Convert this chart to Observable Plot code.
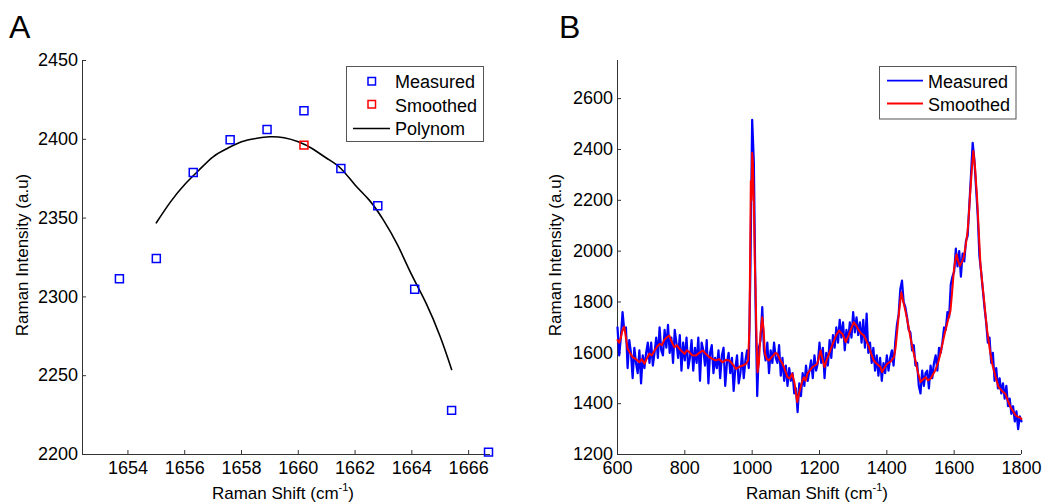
<!DOCTYPE html>
<html><head><meta charset="utf-8">
<script src="https://cdn.jsdelivr.net/npm/d3@7"></script>
<script src="https://cdn.jsdelivr.net/npm/@observablehq/plot@0.6"></script>
<style>
body{margin:0;background:#fff;}
#fig{position:relative;width:1043px;height:504px;overflow:hidden;font-family:"Liberation Sans",Arial,sans-serif;}
#fig svg{position:absolute;top:0;}
</style></head><body><div id="fig"></div>
<script>
// ---------- Panel A data ----------
const aMeasX = [1653.7,1655.0,1656.3,1657.6,1658.9,1660.2,1661.5,1662.8,1664.1,1665.4,1666.7];
const aMeasY = [2311.5,2324.4,2378.9,2399.7,2406.2,2418.1,2381.5,2357.8,2304.9,2228.0,2201.5];
const aSmoothX = [1660.2];
const aSmoothY = [2396.3];
const aPolyX = [1655.0,1655.5,1656.0,1656.5,1657.0,1657.5,1658.0,1658.5,1659.0,1659.5,1660.0,1660.5,1661.0,1661.5,1662.0,1662.5,1663.0,1663.5,1664.0,1664.5,1665.0,1665.4];
const aPolyY = [2347,2360.3,2371.3,2380.4,2388.9,2394.2,2398.4,2400.5,2401.6,2401.0,2398.4,2394.0,2388.0,2381.5,2371.0,2361.4,2348.7,2332.8,2313.8,2296.0,2274.7,2254.0];
const aXTicks = [1654,1656,1658,1660,1662,1664,1666];
const aYTicks = [2200,2250,2300,2350,2400,2450];
const aXDomain = [1652.4,1666.77];
const aYDomain = [2200,2450];

// ---------- Panel B data ----------
const bMeasStart = 600, bMeasStep = 5;
const bMeasY = [
 1700,1590,1660,1760,1690,1700,1540,1650,1600,1500,1620,1560,1520,1610,1480,1590,1540,1600,1640,1560,
 1640,1550,1600,1660,1580,1700,1610,1590,1690,1620,1710,1600,1660,1560,1690,1640,1580,1670,1530,1640,
 1570,1660,1540,1580,1650,1530,1620,1560,1660,1490,1640,1610,1550,1650,1480,1600,1630,1520,1580,1540,
 1610,1500,1590,1620,1470,1560,1600,1520,1580,1450,1540,1590,1480,1520,1600,1500,1570,1610,1540,1950,
 2517,2350,1800,1430,1620,1650,1780,1610,1570,1640,1520,1610,1560,1640,1580,1560,1630,1510,1580,1490,
 1550,1470,1540,1490,1520,1440,1460,1367,1480,1430,1520,1470,1550,1490,1530,1570,1500,1590,1530,1560,
 1640,1560,1620,1500,1600,1550,1650,1580,1670,1620,1700,1640,1730,1660,1720,1610,1690,1640,1720,1660,
 1760,1680,1740,1670,1720,1640,1730,1620,1754,1600,1640,1560,1620,1530,1590,1510,1580,1490,1560,1520,
 1590,1530,1580,1610,1550,1640,1710,1750,1850,1884,1800,1780,1740,1690,1680,1610,1630,1550,1560,1470,
 1440,1530,1470,1520,1530,1460,1550,1500,1560,1590,1530,1620,1600,1640,1700,1690,1760,1740,1870,1900,
 1920,2010,1940,2000,1900,1990,1960,2040,2060,2180,2300,2426,2360,2250,2140,1980,1920,1850,1780,1720,
 1640,1660,1560,1600,1490,1540,1460,1500,1440,1480,1420,1470,1390,1420,1360,1390,1330,1370,1300,1350,
 1330];
const bSmoothX = [600,605,610,615,620,625,630,637,645,655,665,672,680,688,695,702,710,718,725,732,739,746,754,762,769,776,784,792,799,806,814,822,833,843,853,863,873,883,893,902,912,922,932,942,952,962,972,982,988,992,996,998,1000,1002,1005,1008,1010,1013,1016,1020,1025,1030,1034,1038,1044,1050,1056,1063,1069,1075,1082,1090,1097,1105,1112,1119,1126,1134,1139,1144,1149,1154,1159,1164,1171,1179,1186,1193,1198,1203,1209,1215,1221,1228,1235,1243,1250,1258,1263,1268,1273,1278,1285,1292,1297,1302,1310,1317,1325,1332,1340,1347,1354,1361,1368,1376,1381,1386,1392,1401,1411,1421,1426,1431,1437,1443,1449,1455,1462,1470,1477,1485,1492,1500,1507,1515,1522,1530,1537,1544,1552,1559,1566,1574,1582,1589,1594,1599,1603,1607,1612,1617,1622,1628,1634,1640,1644,1648,1653,1657,1662,1668,1673,1678,1683,1688,1693,1698,1705,1713,1722,1732,1742,1752,1760,1767,1775,1782,1790,1796,1800];
const bSmoothY = [1650,1640,1660,1690,1703,1660,1616,1600,1583,1575,1563,1575,1557,1580,1597,1590,1609,1625,1635,1630,1651,1660,1668,1640,1622,1630,1616,1605,1596,1610,1602,1590,1589,1600,1609,1595,1583,1575,1570,1575,1563,1572,1570,1555,1537,1545,1550,1557,1570,1700,2276,2200,2387,2350,2197,1950,1857,1650,1524,1560,1680,1740,1690,1596,1575,1570,1580,1590,1600,1596,1575,1557,1535,1504,1500,1518,1480,1406,1440,1465,1490,1504,1490,1518,1530,1544,1550,1557,1580,1609,1575,1544,1570,1596,1620,1648,1670,1688,1680,1675,1660,1642,1665,1688,1705,1720,1705,1688,1675,1668,1645,1622,1595,1570,1560,1550,1544,1524,1540,1557,1565,1583,1620,1688,1770,1838,1800,1766,1720,1661,1615,1570,1525,1485,1495,1504,1492,1498,1515,1531,1560,1596,1640,1688,1730,1766,1840,1923,1960,1988,1960,1942,1955,1975,2020,2080,2150,2237,2330,2394,2330,2210,2080,1949,1880,1818,1750,1688,1620,1557,1510,1465,1450,1439,1410,1387,1370,1354,1348,1345,1340];
const bXTicks = [600,800,1000,1200,1400,1600,1800];
const bYTicks = [1200,1400,1600,1800,2000,2200,2400,2600];
const bXDomain = [600,1800];
const bYDomain = [1200,2750];

const FONT = '"Liberation Sans", Arial, sans-serif';
const AXIS = "#333";
const fmt = d => String(d);

const aMeas = aMeasX.map((x,i)=>({x, y:aMeasY[i]}));
const aSmooth = aSmoothX.map((x,i)=>({x, y:aSmoothY[i]}));
const aPoly = aPolyX.map((x,i)=>({x, y:aPolyY[i]}));
const bMeas = bMeasY.map((y,i)=>({x: bMeasStart + i*bMeasStep, y}));
const bSmooth = bSmoothX.map((x,i)=>({x, y:bSmoothY[i]}));

function axes(xTicks, yTicks, xDom, yDom){
  return [
    Plot.ruleX([xDom[0]], {stroke: AXIS, strokeWidth: 1}),
    Plot.ruleY([yDom[0]], {stroke: AXIS, strokeWidth: 1}),
    Plot.axisX({ticks: xTicks, tickSize: -4, tickPadding: 11, tickFormat: fmt, label: null, stroke: AXIS, fill: "#000"}),
    Plot.axisY({ticks: yTicks, tickSize: -4, tickPadding: 8.5, tickFormat: fmt, label: null, stroke: AXIS, fill: "#000"})
  ];
}

const plotA = Plot.plot({
  width: 520, height: 504,
  marginLeft: 82, marginRight: 30, marginTop: 60, marginBottom: 50,
  style: {fontFamily: FONT, fontSize: "18px", color: "#000", background: "transparent", overflow: "visible"},
  x: {domain: aXDomain},
  y: {domain: aYDomain},
  marks: [
    ...axes(aXTicks, aYTicks, aXDomain, aYDomain),
    Plot.line(aPoly, {x: "x", y: "y", stroke: "#000", strokeWidth: 1.6, curve: "natural"}),
    Plot.dot(aMeas, {x: "x", y: "y", symbol: "square", r: 4.5, stroke: "#0000ff", strokeWidth: 1.5, fill: "none"}),
    Plot.dot(aSmooth, {x: "x", y: "y", symbol: "square", r: 4.5, stroke: "#ff0000", strokeWidth: 1.5, fill: "none"})
  ]
});
plotA.style.left = "0px";

const plotB = Plot.plot({
  width: 523, height: 504,
  marginLeft: 97, marginRight: 22, marginTop: 60, marginBottom: 50,
  style: {fontFamily: FONT, fontSize: "18px", color: "#000", background: "transparent", overflow: "visible"},
  x: {domain: bXDomain},
  y: {domain: bYDomain},
  marks: [
    ...axes(bXTicks, bYTicks, bXDomain, bYDomain),
    Plot.line(bMeas, {x: "x", y: "y", stroke: "#0000ff", strokeWidth: 2.2}),
    Plot.line(bSmooth, {x: "x", y: "y", stroke: "#ff0000", strokeWidth: 2})
  ]
});
plotB.style.left = "520px";

const fig = document.getElementById("fig");
fig.appendChild(plotA);
fig.appendChild(plotB);

// ---------- overlay: panel letters, axis titles, legends ----------
const ns = "http://www.w3.org/2000/svg";
const ov = d3.select(fig).append("svg").attr("xmlns", ns)
  .attr("width", 1043).attr("height", 504)
  .style("left", "0px").style("font-family", FONT);

ov.append("text").attr("x", 9).attr("y", 38).attr("font-size", 32).text("A");
ov.append("text").attr("x", 559).attr("y", 38).attr("font-size", 32).text("B");

function xTitle(cx){
  const t = ov.append("text").attr("x", cx).attr("y", 499).attr("font-size", 17).attr("text-anchor", "middle");
  t.append("tspan").text("Raman Shift (cm");
  t.append("tspan").attr("font-size", 11).attr("dy", -8).text("-1");
  t.append("tspan").attr("dy", 8).text(")");
}
xTitle(283); xTitle(817);
function yTitle(bx){
  ov.append("text").attr("transform", `translate(${bx},255) rotate(-90)`)
    .attr("font-size", 17).attr("text-anchor", "middle").text("Raman Intensity (a.u)");
}
yTitle(28); yTitle(561);

// legend A
const legA = ov.append("g");
legA.append("rect").attr("x", 346.5).attr("y", 66.5).attr("width", 137).attr("height", 75)
  .attr("fill", "#fff").attr("stroke", "#555").attr("stroke-width", 1);
const legAItems = [
  {label: "Measured", color: "#0000ff", kind: "square", cy: 81, by: 88},
  {label: "Smoothed", color: "#ff0000", kind: "square", cy: 104, by: 111.5},
  {label: "Polynom", color: "#000", kind: "line", cy: 128.5, by: 135}
];
for (const it of legAItems){
  if (it.kind === "square") legA.append("rect").attr("x", 368).attr("y", it.cy - 3.5).attr("width", 7.5).attr("height", 7.5)
    .attr("fill", "none").attr("stroke", it.color).attr("stroke-width", 1.5);
  else legA.append("line").attr("x1", 353).attr("x2", 390).attr("y1", it.cy).attr("y2", it.cy).attr("stroke", it.color).attr("stroke-width", 1.6);
  legA.append("text").attr("x", 395).attr("y", it.by).attr("font-size", 18).text(it.label);
}
// legend B
const legB = ov.append("g");
legB.append("rect").attr("x", 879.5).attr("y", 66.5).attr("width", 136.5).attr("height", 52.5)
  .attr("fill", "#fff").attr("stroke", "#555").attr("stroke-width", 1);
const legBItems = [
  {label: "Measured", color: "#0000ff", cy: 80.7, by: 88},
  {label: "Smoothed", color: "#ff0000", cy: 103.5, by: 111}
];
for (const it of legBItems){
  legB.append("line").attr("x1", 887).attr("x2", 923).attr("y1", it.cy).attr("y2", it.cy).attr("stroke", it.color).attr("stroke-width", 1.8);
  legB.append("text").attr("x", 928).attr("y", it.by).attr("font-size", 18).text(it.label);
}
</script>
</body></html>
